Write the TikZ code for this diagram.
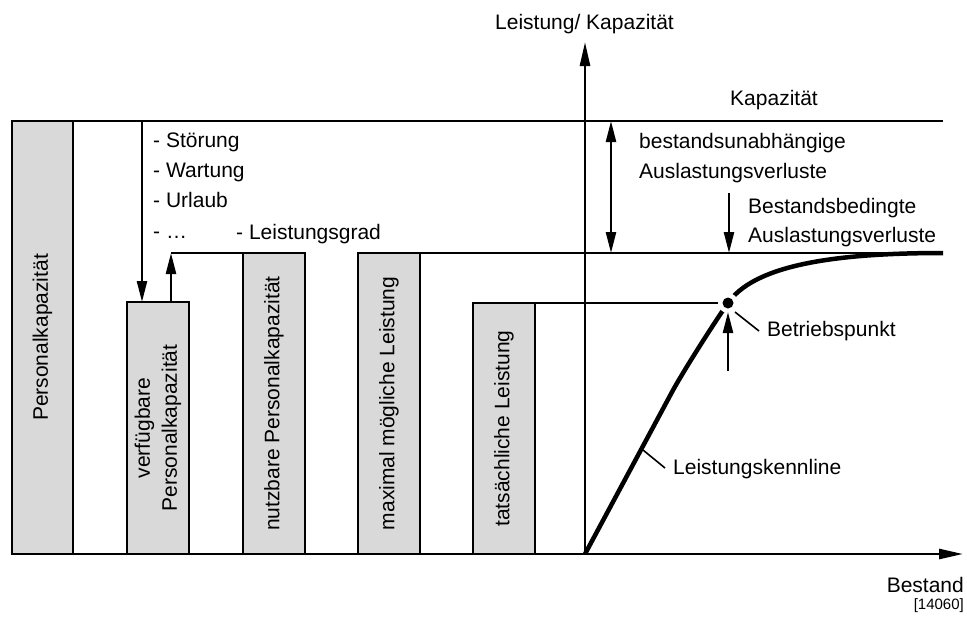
\documentclass[tikz,border=0pt]{standalone}
\usepackage{fontspec}
\setmainfont{Liberation Sans}
\usetikzlibrary{arrows.meta}
\definecolor{barfill}{RGB}{217,217,217}
\begin{document}
\begin{tikzpicture}[x=1pt,y=-1pt,
  txt/.style={font=\fontsize{21}{26}\selectfont, inner sep=0pt},
  smalltxt/.style={font=\fontsize{15}{18}\selectfont, inner sep=0pt},
  bar/.style={draw=black, fill=barfill, line width=2.6pt, rotate=90,
    inner sep=0pt, align=center, font=\fontsize{21}{27}\selectfont},
  thin/.style={line width=1.6pt},
  mid/.style={line width=2.2pt},
  axis/.style={line width=2.6pt, -{Triangle[length=24pt,width=10pt]}},
  onearrow/.style={line width=2.4pt, -{Triangle[length=21pt,width=10pt]}},
  dblarrow/.style={line width=2.4pt, {Triangle[length=21pt,width=10pt]}-{Triangle[length=21pt,width=10pt]}},
  curve/.style={line width=4.5pt, line join=round},
  tick/.style={line width=1.6pt}]
\useasboundingbox (0,0) rectangle (967,622);

% reference points
\coordinate (O) at (585,554);
\coordinate (xend) at (963,554);
\coordinate (yend) at (585,42);
\coordinate (xstart) at (12,554);
\coordinate (BP) at (728,303);
\coordinate (kapL) at (73,121);
\coordinate (kapR) at (943,121);
\coordinate (lgL) at (171,253);
\coordinate (lgM) at (243,253);
\coordinate (lgN) at (420,253);
\coordinate (lgR) at (943,253);
\coordinate (tlTop) at (535,303);
\coordinate (vTop) at (142,302);

% capacity bars
\node[bar, minimum width=433pt, minimum height=61pt] (b1) at (42.5,337.5) {Personalkapazität};
\node[bar, minimum width=252pt, minimum height=62pt] (b2) at (158,428) {verfügbare\\Personalkapazität};
\node[bar, minimum width=301pt, minimum height=62pt] (b3) at (274,403.5) {nutzbare Personalkapazität};
\node[bar, minimum width=301pt, minimum height=62pt] (b4) at (389,403.5) {maximal mögliche Leistung};
\node[bar, minimum width=251pt, minimum height=62pt] (b5) at (504,428.5) {tatsächliche Leistung};

% level lines
\draw[thin] (kapL) -- (kapR);
\draw[mid] (lgL) -- (lgM);
\draw[mid] (lgN) -- (lgR);
\draw[thin] (tlTop) -- (BP);

% axes
\draw[axis] (xstart) -- (xend);
\draw[axis] (O) -- (yend);

% characteristic curve
\draw[curve] (O) -- (672,392) .. controls (682.8,372) and (714,323) .. (BP)
  .. controls (752.5,268) and (823,253) .. (lgR);

% operating point
\fill[white] (BP) circle (10);
\fill[black] (BP) circle (5.5);
\coordinate (bpArrow) at (728,371);
\coordinate (bpTipBelow) at (728,312);
\draw[onearrow] (bpArrow) -- (bpTipBelow);

% losses between bars
\coordinate (lossTop) at (142,121);
\draw[onearrow] (lossTop) -- (vTop);
\coordinate (gainBase) at (171,302);
\draw[onearrow] (gainBase) -- (lgL);

% loss arrows on the right
\coordinate (dTop) at (611,121);
\coordinate (dBot) at (611,253);
\draw[dblarrow] (dTop) -- (dBot);
\coordinate (bTop) at (729,193);
\coordinate (bBot) at (729,253);
\draw[onearrow] (bTop) -- (bBot);

% annotation ticks
\coordinate (bpT1) at (735,312);
\coordinate (bpT2) at (759,331);
\draw[tick] (bpT1) -- (bpT2);
\coordinate (klT1) at (643,450);
\coordinate (klT2) at (665,468);
\draw[tick] (klT1) -- (klT2);

% labels
\node[txt, anchor=base] (ylab) at (584.5,29) {Leistung/ Kapazität};
\node[txt, anchor=base east] (xlab) at (964,592) {Bestand};
\node[smalltxt, anchor=base east] (ref) at (964,609) {[14060]};
\node[txt, anchor=base] (kaplab) at (774,105) {Kapazität};
\node[txt, anchor=base west] (bu1) at (639,148) {bestandsunabhängige};
\node[txt, anchor=base west] (bu2) at (639,178) {Auslastungsverluste};
\node[txt, anchor=base west] (bb1) at (748,213) {Bestandsbedingte};
\node[txt, anchor=base west] (bb2) at (748,242) {Auslastungsverluste};
\node[txt, anchor=base west] (s1) at (153,147) {- Störung};
\node[txt, anchor=base west] (s2) at (153,177) {- Wartung};
\node[txt, anchor=base west] (s3) at (153,207) {- Urlaub};
\node[txt, anchor=base west] (s4) at (153,238) {- …};
\node[txt, anchor=base west] (lg) at (236,239) {- Leistungsgrad};
\node[txt, anchor=base west] (bplab) at (767,336) {Betriebspunkt};
\node[txt, anchor=base west] (kllab) at (673,474) {Leistungskennline};
\end{tikzpicture}
\end{document}
